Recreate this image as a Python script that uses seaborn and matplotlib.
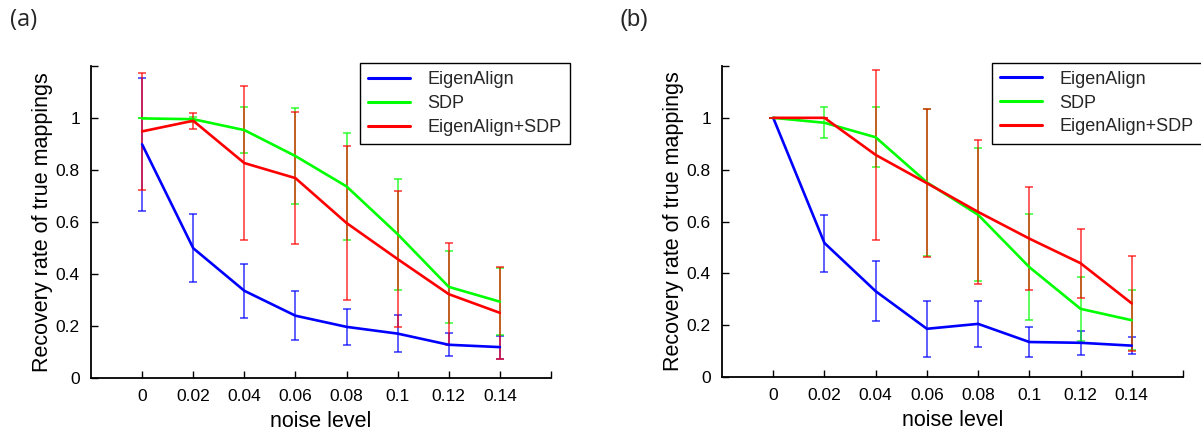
import numpy as np
import pandas as pd
import matplotlib
matplotlib.use("Agg")
import matplotlib.pyplot as plt
import seaborn as sns

# ---------------- data ----------------
noise = [0, 0.02, 0.04, 0.06, 0.08, 0.10, 0.12, 0.14]
series_names = ["EigenAlign", "SDP", "EigenAlign+SDP"]
series_colors = ["#0000ff", "#00ff00", "#ff0000"]

# panel (a)
a_eigen_mean = [0.90, 0.50, 0.336, 0.240, 0.197, 0.171, 0.128, 0.119]
a_eigen_err = [0.256, 0.131, 0.104, 0.095, 0.070, 0.072, 0.044, 0.044]
a_sdp_mean = [1.00, 0.997, 0.955, 0.855, 0.738, 0.554, 0.351, 0.294]
a_sdp_err = [0.0, 0.01, 0.088, 0.186, 0.205, 0.214, 0.139, 0.128]
a_comb_mean = [0.95, 0.991, 0.828, 0.770, 0.597, 0.458, 0.323, 0.251]
a_comb_err = [0.224, 0.030, 0.297, 0.253, 0.297, 0.262, 0.197, 0.178]

# panel (b)
b_eigen_mean = [1.00, 0.517, 0.331, 0.186, 0.205, 0.135, 0.132, 0.121]
b_eigen_err = [0.0, 0.110, 0.115, 0.107, 0.090, 0.057, 0.047, 0.034]
b_sdp_mean = [1.00, 0.981, 0.925, 0.751, 0.626, 0.424, 0.263, 0.219]
b_sdp_err = [0.0, 0.059, 0.116, 0.285, 0.257, 0.205, 0.123, 0.116]
b_comb_mean = [1.00, 1.00, 0.857, 0.748, 0.637, 0.534, 0.439, 0.284]
b_comb_err = [0.0, 0.0, 0.329, 0.285, 0.278, 0.200, 0.133, 0.183]

ytick_vals = [0, 0.2, 0.4, 0.6, 0.8, 1.0, 1.2]
ytick_labels = ["0", "0.2", "0.4", "0.6", "0.8", "1", ""]
xtick_vals = [0, 0.02, 0.04, 0.06, 0.08, 0.10, 0.12, 0.14, 0.16]
xtick_labels = ["0", "0.02", "0.04", "0.06", "0.08", "0.1", "0.12", "0.14", ""]

panel_labels = ["(a)", "(b)"]
xlabel = "noise level"
ylabel = "Recovery rate of true mappings"

# ---------------- style ----------------
sns.set_theme(style="ticks")
plt.rcParams["font.family"] = ["Liberation Sans", "DejaVu Sans"]
plt.rcParams["axes.edgecolor"] = "black"
plt.rcParams["xtick.color"] = "black"
plt.rcParams["ytick.color"] = "black"

fig = plt.figure(figsize=(12.01, 4.33), dpi=100)
ax_a = fig.add_axes([91 / 1201, (433 - 378) / 433, 460 / 1201, 311.5 / 433])
ax_b = fig.add_axes([722 / 1201, (433 - 377) / 433, 461 / 1201, 311 / 433])

panels = [
    (ax_a, [a_eigen_mean, a_sdp_mean, a_comb_mean], [a_eigen_err, a_sdp_err, a_comb_err]),
    (ax_b, [b_eigen_mean, b_sdp_mean, b_comb_mean], [b_eigen_err, b_sdp_err, b_comb_err]),
]

for ax, means, errs in panels:
    # error bars
    for m, e, c in zip(means, errs, series_colors):
        ax.errorbar(noise, m, yerr=e, fmt="none", ecolor=c, elinewidth=1.1,
                    capsize=3.2, capthick=1.1, alpha=0.8, zorder=1)
    # lines via seaborn
    for m, name, c in zip(means, series_names, series_colors):
        df = pd.DataFrame({"noise": noise, "rate": m})
        sns.lineplot(data=df, x="noise", y="rate", ax=ax, color=c, linewidth=1.9,
                     label=name, errorbar=None, sort=False, zorder=2)

    ax.set_xlim(-0.02, 0.16)
    ax.set_ylim(0, 1.2)
    ax.set_xticks(xtick_vals)
    ax.set_xticklabels(xtick_labels)
    ax.set_yticks(ytick_vals)
    ax.set_yticklabels(ytick_labels)
    ax.tick_params(direction="in", length=5, width=1, labelsize=12.5, pad=8, colors="black")
    for s in ["top", "right"]:
        ax.spines[s].set_visible(False)
    for s in ["left", "bottom"]:
        ax.spines[s].set_linewidth(1.3)
        ax.spines[s].set_color("black")
    ax.set_xlabel(xlabel, fontsize=15.5, labelpad=5, color="black")
    ax.set_ylabel(ylabel, fontsize=15.5, labelpad=2, color="black")

    handles, labels = ax.get_legend_handles_labels()
    leg = ax.legend(handles, labels, loc="upper right", bbox_to_anchor=(1.041, 1.011),
                    borderaxespad=0, fontsize=13, frameon=True, fancybox=False,
                    edgecolor="black", framealpha=1, handlelength=2.3,
                    handletextpad=1.0, labelspacing=0.38, borderpad=0.45)
    leg.get_frame().set_linewidth(1.0)
    for line in leg.get_lines():
        line.set_linewidth(2.2)

fig.text(24 / 1201, 1 - 20 / 433, panel_labels[0], fontsize=17, ha="center", va="center",
         family=["Open Sans", "DejaVu Sans"])
fig.text(634 / 1201, 1 - 20 / 433, panel_labels[1], fontsize=17, ha="center", va="center")

fig.savefig("out.png", dpi=100)
